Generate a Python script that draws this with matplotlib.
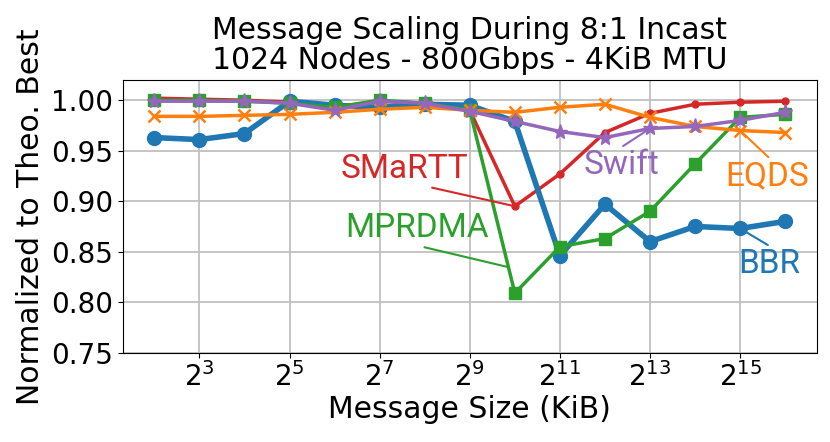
import matplotlib.pyplot as plt

sizes = [2 ** k for k in range(2, 17)]

smartt = [1.002, 1.001, 1.000, 0.998, 0.993, 0.999, 0.997, 0.990, 0.895, 0.927, 0.968, 0.987, 0.996, 0.998, 0.999]
bbr = [0.963, 0.961, 0.967, 0.999, 0.995, 0.993, 0.996, 0.995, 0.979, 0.846, 0.897, 0.860, 0.875, 0.873, 0.880]
mprdma = [1.000, 1.000, 0.999, 0.997, 0.993, 1.000, 0.997, 0.990, 0.809, 0.855, 0.863, 0.890, 0.937, 0.983, 0.986]
eqds = [0.984, 0.984, 0.985, 0.986, 0.988, 0.991, 0.993, 0.990, 0.988, 0.993, 0.996, 0.983, 0.974, 0.970, 0.968]
swift = [0.999, 0.999, 0.999, 0.997, 0.990, 0.999, 0.997, 0.989, 0.979, 0.969, 0.963, 0.972, 0.974, 0.980, 0.988]

blue, orange, green, red, purple = "#1f77b4", "#ff7f0e", "#2ca02c", "#d62728", "#9467bd"

fig = plt.figure(figsize=(8.3, 4.42), dpi=100)
ax = fig.add_axes([0.148, 0.202, 0.836, 0.617])

ax.plot(sizes, smartt, color=red, lw=2.5, marker="o", ms=5)
ax.plot(sizes, bbr, color=blue, lw=4, marker="o", ms=10)
ax.plot(sizes, mprdma, color=green, lw=2.5, marker="s", ms=9)
ax.plot(sizes, eqds, color=orange, lw=2.5, marker="x", ms=9, mew=1.8)
ax.plot(sizes, swift, color=purple, lw=2.5, marker="*", ms=11)

ax.set_xscale("log", base=2)
ax.set_xticks([2 ** k for k in range(3, 16, 2)])
ax.set_ylim(0.75, 1.02)
ax.set_yticks([0.75, 0.80, 0.85, 0.90, 0.95, 1.00])
ax.grid(True, color="#c0c0c0", lw=1.3)
ax.tick_params(labelsize=20)

ax.set_title("Message Scaling During 8:1 Incast\n1024 Nodes - 800Gbps - 4KiB MTU", fontsize=21.5, linespacing=1.05, pad=8)
ax.set_xlabel("Message Size (KiB)", fontsize=21.5, labelpad=2)
ax.set_ylabel("Normalized to Theo. Best", fontsize=21.5)

lab = dict(fontsize=24, family="Roboto", ha="center", va="center")


def line(c, rel):
    return dict(arrowstyle="-", color=c, lw=1.5, shrinkA=0, shrinkB=0, relpos=rel)


ax.annotate("SMaRTT", xy=(sizes[8], smartt[8]), xytext=(2 ** 7.55, 0.932), color=red,
            arrowprops=line(red, (0.62, 0.0)), **lab)
ax.annotate("MPRDMA", xy=(2 ** 9.83, 0.835), xytext=(2 ** 7.83, 0.873), color=green,
            arrowprops=line(green, (0.47, 0.0)), **lab)
ax.annotate("Swift", xy=(sizes[11], swift[11]), xytext=(2 ** 12.36, 0.936), color=purple,
            arrowprops=line(purple, (0.47, 1.0)), **lab)
ax.annotate("EQDS", xy=(sizes[13], eqds[13]), xytext=(2 ** 15.6, 0.925), color=orange,
            arrowprops=line(orange, (0.55, 1.0)), **lab)
ax.annotate("BBR", xy=(sizes[13], bbr[13]), xytext=(2 ** 15.65, 0.838), color=blue,
            arrowprops=line(blue, (0.55, 1.0)), **lab)

fig.savefig("out.png", dpi=100)
